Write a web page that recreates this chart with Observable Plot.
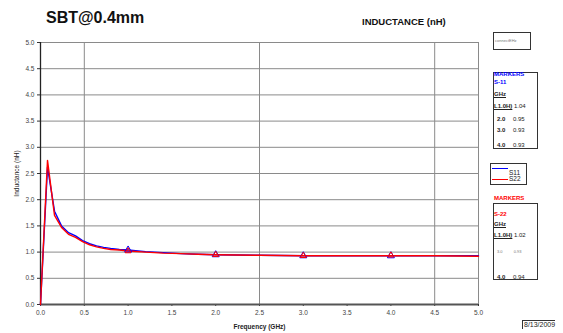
<!DOCTYPE html>
<html><head><meta charset="utf-8">
<script src="https://cdn.jsdelivr.net/npm/d3@7"></script>
<script src="https://cdn.jsdelivr.net/npm/@observablehq/plot@0.6"></script>
<style>
body{margin:0;background:#fff;font-family:"Liberation Sans",Arial,sans-serif;}
#wrap{position:relative;width:563px;height:333px;overflow:hidden;}
.abs{position:absolute;white-space:nowrap;}
.box{position:absolute;border:1px solid #333;box-sizing:border-box;}
.t{position:absolute;white-space:nowrap;font-size:6px;font-weight:bold;color:#222;}
</style></head><body>
<div id="wrap"></div>
<script>
const freq = [0, 0.08, 0.16, 0.24, 0.32, 0.40, 0.48, 0.56, 0.64, 0.72, 0.80, 0.90, 1.0, 1.2, 1.4, 1.6, 1.8, 2.0, 2.5, 3.0, 3.5, 4.0, 4.5, 5.0];
const s11 = [0, 2.62, 1.78, 1.50, 1.37, 1.31, 1.22, 1.16, 1.12, 1.09, 1.07, 1.05, 1.04, 1.01, 0.99, 0.97, 0.96, 0.95, 0.94, 0.93, 0.93, 0.93, 0.93, 0.93];
const s22 = [0, 2.75, 1.70, 1.47, 1.34, 1.28, 1.20, 1.14, 1.10, 1.07, 1.05, 1.04, 1.02, 1.00, 0.98, 0.97, 0.96, 0.95, 0.94, 0.93, 0.93, 0.93, 0.93, 0.92];
const markerFreq = [1.0, 2.0, 3.0, 4.0];
const markerS11 = [1.04, 0.95, 0.93, 0.93];
const markerS22 = [1.02, 0.95, 0.93, 0.94];
const xTicks = [0, 0.5, 1, 1.5, 2, 2.5, 3, 3.5, 4, 4.5, 5];
const yTicks = [0, 0.5, 1, 1.5, 2, 2.5, 3, 3.5, 4, 4.5, 5];
const vGrid = [0.5, 2.5, 4.5, 5.0];

const d11 = freq.map((f, i) => ({f, v: s11[i]}));
const d22 = freq.map((f, i) => ({f, v: s22[i]}));
const m11 = markerFreq.map((f, i) => ({f, v: markerS11[i]}));
const m22 = markerFreq.map((f, i) => ({f, v: markerS22[i]}));

const chart = Plot.plot({
  width: 563, height: 333,
  marginLeft: 40, marginRight: 85, marginTop: 42, marginBottom: 29,
  style: {fontFamily: "Liberation Sans, Arial, sans-serif", background: "#fff"},
  x: {domain: [0, 5]},
  y: {domain: [0, 5]},
  marks: [
    Plot.gridY(yTicks, {stroke: "#8a8a8a", strokeOpacity: 1, strokeWidth: 1}),
    Plot.ruleX(vGrid, {stroke: "#8a8a8a", strokeWidth: 1}),
    Plot.axisX(xTicks, {tickFormat: d3.format(".1f"), fontSize: 6.5, fill: "#444", tickSize: 2, tickPadding: 4, stroke: "#333",
      label: "Frequency (GHz)", labelAnchor: "center", labelArrow: "none", labelOffset: 24}),
    Plot.axisY(yTicks, {tickFormat: d3.format(".1f"), fontSize: 6.5, fill: "#444", tickSize: 3, tickPadding: 3, stroke: "#333",
      label: "Inductance (nH)", labelAnchor: "center", labelArrow: "none", labelOffset: 26}),
    Plot.ruleY([0], {stroke: "#555", strokeWidth: 2}),
    Plot.ruleX([0], {stroke: "#222", strokeWidth: 1.3}),
    Plot.line(d11, {x: "f", y: "v", stroke: "#0000ff", strokeWidth: 1.4}),
    Plot.line(d22, {x: "f", y: "v", stroke: "#ff0000", strokeWidth: 1.4}),
    Plot.dot(m11, {x: "f", y: "v", symbol: "triangle", r: 2.6, stroke: "#0000ff", strokeWidth: 1, fill: "none"}),
    Plot.dot(m22, {x: "f", y: "v", symbol: "triangle", r: 2.2, stroke: "#ff0000", strokeWidth: 1, fill: "none"})
  ]
});
const wrap = document.getElementById("wrap");
chart.style.position = "absolute"; chart.style.left = "0"; chart.style.top = "0";
wrap.appendChild(chart);
d3.select(chart).selectAll("[aria-label='x-axis label'] text, [aria-label='x-axis label']")
  .attr("font-weight", "bold").attr("font-size", 6.5).attr("fill", "#222");
d3.select(chart).selectAll("[aria-label='y-axis label']").attr("font-size", 6.5).attr("fill", "#222");

function add(html){ wrap.insertAdjacentHTML("beforeend", html); }
add(`<div class="abs" style="left:46px;top:9px;font-size:16px;font-weight:bold;color:#111;">SBT@0.4mm</div>`);
add(`<div class="abs" style="left:362px;top:16px;font-size:9.5px;font-weight:bold;color:#111;">INDUCTANCE (nH)</div>`);
add(`<div class="box" style="left:493px;top:32px;width:38px;height:18px;"></div>`);
add(`<div class="abs" style="left:495px;top:38px;font-size:4px;color:#777;">connectEHz</div>`);
// marker box S-11
add(`<div class="box" style="left:493px;top:72px;width:45px;height:77px;"></div>`);
add(`<div class="t" style="left:494px;top:71px;color:#0000ff;">MARKERS</div>`);
add(`<div class="t" style="left:494px;top:79px;color:#0000ff;">S-11</div>`);
add(`<div class="t" style="left:494px;top:91px;text-decoration:underline;">GHz</div>`);
add(`<div class="t" style="left:494px;top:103px;"><span style="text-decoration:underline;">L1.0H)</span> <span style="font-weight:normal;">1.04</span></div>`);
add(`<div class="t" style="left:497px;top:116px;">2.0 <span style="font-weight:normal;margin-left:6px;">0.95</span></div>`);
add(`<div class="t" style="left:497px;top:127px;">3.0 <span style="font-weight:normal;margin-left:6px;">0.93</span></div>`);
add(`<div class="t" style="left:497px;top:142px;">4.0 <span style="font-weight:normal;margin-left:6px;">0.93</span></div>`);
// legend
add(`<div class="box" style="left:490px;top:163px;width:37px;height:22px;"></div>`);
add(`<div class="abs" style="left:492px;top:168px;width:16px;height:0;border-top:1.5px solid #0000ff;"></div>`);
add(`<div class="abs" style="left:492px;top:179px;width:16px;height:0;border-top:1.5px solid #ff0000;"></div>`);
add(`<div class="abs" style="left:509px;top:169px;font-size:6.5px;color:#222;">S11</div>`);
add(`<div class="abs" style="left:509px;top:175px;font-size:6.5px;color:#222;">S22</div>`);
// marker box S-22
add(`<div class="t" style="left:494px;top:195px;color:#ff0000;">MARKERS</div>`);
add(`<div class="box" style="left:493px;top:203px;width:45px;height:77px;"></div>`);
add(`<div class="t" style="left:494px;top:211px;color:#ff0000;">S-22</div>`);
add(`<div class="t" style="left:494px;top:221px;text-decoration:underline;">GHz</div>`);
add(`<div class="t" style="left:494px;top:232px;"><span style="text-decoration:underline;">L1.0H)</span> <span style="font-weight:normal;">1.02</span></div>`);
add(`<div class="abs" style="left:497px;top:249px;font-size:4px;color:#777;">3.0 <span style="margin-left:10px;">0.93</span></div>`);
add(`<div class="t" style="left:497px;top:274px;">4.0 <span style="font-weight:normal;margin-left:6px;">0.94</span></div>`);
// date
add(`<div class="abs" style="left:522px;top:320px;font-size:7px;color:#222;border-left:1px solid #333;border-top:1px solid #333;padding-left:1px;line-height:8px;">8/13/2009</div>`);
</script>
</body></html>
